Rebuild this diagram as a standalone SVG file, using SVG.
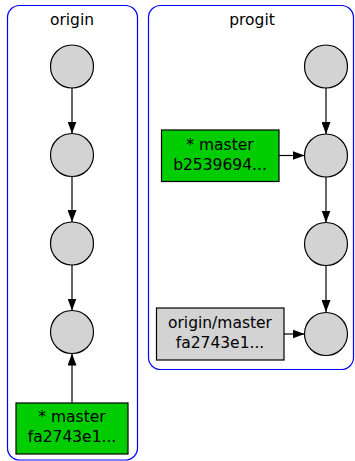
<svg xmlns="http://www.w3.org/2000/svg" width="355" height="461" viewBox="0 0 355 461">
<style>
.cl{fill:none;stroke:#0000ff;stroke-width:1.2}
.c{fill:#d3d3d3;stroke:#000;stroke-width:1.2}
.g{fill:#00cd00;stroke:#000;stroke-width:1.2}
.gr{fill:#d3d3d3;stroke:#000;stroke-width:1.2}
.e{stroke:#000;stroke-width:1.2;fill:none}
text{font-family:"DejaVu Sans",sans-serif;font-size:15.5px;fill:#000;text-anchor:middle}
</style>
<defs>
<marker id="ah" markerWidth="12" markerHeight="9" refX="12" refY="4.5" orient="auto" markerUnits="userSpaceOnUse">
<path d="M0,0 L12,4.5 L0,9 Z" fill="#000"/>
</marker>
</defs>
<g id="cluster_origin">
<rect class="cl" x="7.5" y="5.5" width="130" height="454.5" rx="12"/>
<text x="72" y="25">origin</text>
</g>
<g id="cluster_progit">
<rect class="cl" x="148.5" y="5.5" width="205" height="364" rx="12"/>
<text x="252" y="25">progit</text>
</g>
<g id="connectors">
<line class="e" x1="72" y1="88" x2="72" y2="133.5" marker-end="url(#ah)"/>
<line class="e" x1="72" y1="176.5" x2="72" y2="222" marker-end="url(#ah)"/>
<line class="e" x1="72" y1="265" x2="72" y2="310.5" marker-end="url(#ah)"/>
<line class="e" x1="72" y1="403" x2="72" y2="353.5" marker-end="url(#ah)"/>
<line class="e" x1="326" y1="88" x2="326" y2="134" marker-end="url(#ah)"/>
<line class="e" x1="326" y1="177" x2="326" y2="222.5" marker-end="url(#ah)"/>
<line class="e" x1="326" y1="265.5" x2="326" y2="312" marker-end="url(#ah)"/>
<line class="e" x1="279" y1="155.5" x2="304.5" y2="155.5" marker-end="url(#ah)"/>
<line class="e" x1="284" y1="334" x2="304.5" y2="334" marker-end="url(#ah)"/>
</g>
<g id="o1"><circle class="c" cx="72" cy="66.5" r="21.5"/></g>
<g id="o2"><circle class="c" cx="72" cy="155" r="21.5"/></g>
<g id="o3"><circle class="c" cx="72" cy="243.5" r="21.5"/></g>
<g id="o4"><circle class="c" cx="72" cy="332" r="21.5"/></g>
<g id="origin_master">
<rect class="g" x="16" y="403" width="112" height="51"/>
<text x="72" y="421.5">* master</text>
<text x="72" y="442">fa2743e1...</text>
</g>
<g id="p1"><circle class="c" cx="326" cy="66.5" r="21.5"/></g>
<g id="p2"><circle class="c" cx="326" cy="155.5" r="21.5"/></g>
<g id="p3"><circle class="c" cx="326" cy="244" r="21.5"/></g>
<g id="p4"><circle class="c" cx="326" cy="334" r="21.5"/></g>
<g id="progit_master">
<rect class="g" x="161.5" y="130" width="117.5" height="51.5"/>
<text x="220" y="149.5">* master</text>
<text x="220" y="170">b2539694...</text>
</g>
<g id="progit_origin_master">
<rect class="gr" x="156.5" y="308" width="127.5" height="52"/>
<text x="220" y="327.5">origin/master</text>
<text x="220" y="348">fa2743e1...</text>
</g>
</svg>
